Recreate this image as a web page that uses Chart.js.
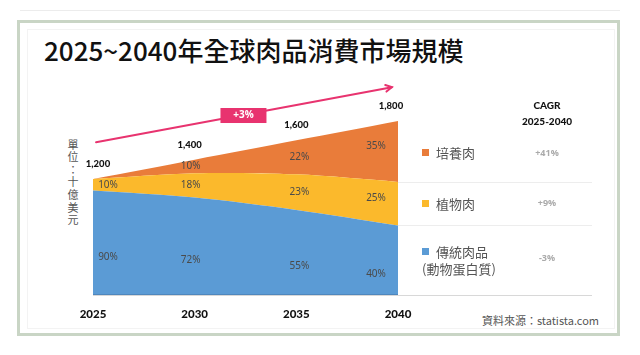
<!DOCTYPE html>
<html><head><meta charset="utf-8">
<script src="https://cdn.jsdelivr.net/npm/chart.js@4"></script>
<style>
html,body{margin:0;padding:0;background:#fff;}
#wrap{position:relative;width:640px;height:355px;overflow:hidden;font-family:"Noto Sans CJK TC","Noto Sans",sans-serif;}
#topline{position:absolute;left:20px;top:10px;width:600px;height:1px;background:#ececec;}
#frame{position:absolute;left:17px;top:20px;width:597px;height:310px;border:3px solid #c9d5c5;}
#inner{position:absolute;left:27px;top:29px;width:586px;height:298px;border:1px solid #f3f3f3;}
#title{position:absolute;left:44px;top:35px;font-size:26px;line-height:30px;font-weight:500;color:#111;white-space:nowrap;}
#unit{position:absolute;left:66px;top:139px;writing-mode:vertical-rl;font-size:11px;letter-spacing:1.6px;color:#555;line-height:14px;}
#source{position:absolute;right:41px;top:312px;font-size:11px;color:#555;white-space:nowrap;line-height:16px;}
canvas{position:absolute;left:0;top:0;}
</style></head>
<body><div id="wrap">
<div id="topline"></div>
<div id="frame"></div>
<div id="inner"></div>
<div id="title">2025~2040年全球肉品消費市場規模</div>
<div id="unit">單位：十億美元</div>
<div id="source">資料來源：statista.com</div>
<canvas id="c" width="640" height="355"></canvas>
</div>
<script>
const years = [2025, 2030, 2035, 2040];
const totals = [1200, 1400, 1600, 1800];
const shareTraditional = [90, 72, 55, 40];
const sharePlant = [10, 18, 23, 25];
const shareCultured = [0, 10, 22, 35];
const seriesNames = ['傳統肉品', '植物肉', '培養肉'];
const cagrValues = ['-3%', '+9%', '+41%'];
const colors = ['#5b9bd5', '#fbb92c', '#e97c3a'];

const shares = [shareTraditional, sharePlant, shareCultured];
const datasets = shares.map((sh, k) => ({
  label: seriesNames[k],
  data: years.map((y, i) => ({x: y, y: totals[i] * sh[i] / 100})),
  backgroundColor: colors[k],
  borderColor: colors[k],
  borderWidth: 0,
  pointRadius: 0,
  fill: k === 0 ? 'origin' : '-1',
  tension: 0.3
}));

const annot = {
  arrowFrom: {x: 2025.15, y: 1580},
  arrowTo: {x: 2039.7, y: 2150},
  badge: {x: 2032.4, y: 1862, text: '+3%'}
};

const labelsPlugin = {
  id: 'labels',
  afterDatasetsDraw(chart) {
    const ctx = chart.ctx;
    const xs = chart.scales.x, ys = chart.scales.y;
    const ca = chart.chartArea;
    const base = ys.getPixelForValue(0);
    const n = years.length;
    ctx.save();
    // baseline & dividers
    ctx.strokeStyle = '#d8d8d8';
    ctx.lineWidth = 1;
    ctx.beginPath();
    ctx.moveTo(ca.left, Math.round(base) + 0.5);
    ctx.lineTo(592, Math.round(base) + 0.5);
    ctx.stroke();
    ctx.strokeStyle = '#4f87bd';
    ctx.beginPath();
    ctx.moveTo(ca.left, Math.round(base) - 0.5);
    ctx.lineTo(ca.right, Math.round(base) - 0.5);
    ctx.stroke();
    ctx.strokeStyle = '#ededed';
    for (let k = 0; k < 2; k++) {
      const p = chart.getDatasetMeta(k).data[n - 1];
      ctx.beginPath();
      ctx.moveTo(ca.right, Math.round(p.y) + 0.5);
      ctx.lineTo(592, Math.round(p.y) + 0.5);
      ctx.stroke();
    }
    // percent labels
    ctx.textAlign = 'center';
    ctx.textBaseline = 'middle';
    ctx.font = '10px "Noto Sans", sans-serif';
    ctx.fillStyle = '#4a4a4a';
    const xOff = [15, -4, 3, -22];
    const yOff = [14, 0, 0];
    for (let k = 0; k < 3; k++) {
      const meta = chart.getDatasetMeta(k);
      for (let i = 0; i < n; i++) {
        if (!shares[k][i]) continue;
        const top = meta.data[i].y;
        const bot = k === 0 ? base : chart.getDatasetMeta(k - 1).data[i].y;
        let y = (top + bot) / 2 + yOff[k];
        if (i === n - 1 && k > 0) y -= 5;
        ctx.fillText(shares[k][i] + '%', meta.data[i].x + xOff[i], y);
      }
    }
    // totals
    ctx.font = '900 9.5px Lato, sans-serif';
    ctx.fillStyle = '#111';
    const tOff = [5, -5, 0, -7];
    for (let i = 0; i < n; i++) {
      ctx.fillText(totals[i].toLocaleString('en-US'), xs.getPixelForValue(years[i]) + tOff[i], ys.getPixelForValue(totals[i]) - 15);
    }
    // arrow
    const x1 = xs.getPixelForValue(annot.arrowFrom.x), y1 = ys.getPixelForValue(annot.arrowFrom.y);
    const x2 = xs.getPixelForValue(annot.arrowTo.x), y2 = ys.getPixelForValue(annot.arrowTo.y);
    ctx.strokeStyle = '#e8336f';
    ctx.lineWidth = 2;
    ctx.lineCap = 'round';
    ctx.beginPath(); ctx.moveTo(x1, y1); ctx.lineTo(x2, y2); ctx.stroke();
    const ang = Math.atan2(y2 - y1, x2 - x1);
    ctx.beginPath();
    ctx.moveTo(x2 - 7 * Math.cos(ang - 0.5), y2 - 7 * Math.sin(ang - 0.5));
    ctx.lineTo(x2, y2);
    ctx.lineTo(x2 - 7 * Math.cos(ang + 0.5), y2 - 7 * Math.sin(ang + 0.5));
    ctx.stroke();
    const bx = xs.getPixelForValue(annot.badge.x), by = ys.getPixelForValue(annot.badge.y);
    ctx.fillStyle = '#e8336f';
    ctx.fillRect(bx - 23, by - 7, 46, 15);
    ctx.fillStyle = '#fff';
    ctx.font = 'bold 10px "Open Sans", sans-serif';
    ctx.fillText(annot.badge.text, bx, by + 0.5);
    // CAGR header
    ctx.fillStyle = '#111';
    ctx.font = '900 10px Lato, sans-serif';
    ctx.fillText('CAGR', 547, 106);
    ctx.fillText('2025-2040', 547, 122);
    // legend
    for (let k = 2; k >= 0; k--) {
      const top = chart.getDatasetMeta(k).data[n - 1].y;
      const bot = k === 0 ? base : chart.getDatasetMeta(k - 1).data[n - 1].y;
      const mid = (top + bot) / 2 + (k === 2 ? 2 : 0);
      const ty = k === 0 ? mid - 8.5 : mid;
      ctx.fillStyle = colors[k];
      ctx.fillRect(422, Math.round(ty) - 4, 7, 7);
      ctx.fillStyle = '#555';
      ctx.textAlign = 'left';
      ctx.font = '13px "Noto Sans CJK TC", sans-serif';
      ctx.fillText(seriesNames[k], 436, ty);
      if (k === 0) ctx.fillText('(動物蛋白質)', 422, mid + 8.5);
      ctx.textAlign = 'center';
      ctx.fillStyle = '#aaa';
      ctx.font = 'bold 9px "Open Sans", sans-serif';
      ctx.fillText(cagrValues[k], 547, k === 0 ? mid - 2 : mid);
    }
    ctx.restore();
  }
};

new Chart(document.getElementById('c'), {
  type: 'line',
  data: {datasets},
  options: {
    responsive: false,
    animation: false,
    events: [],
    layout: {padding: {left: 93, right: 242, top: 121, bottom: 0}},
    plugins: {legend: {display: false}, tooltip: {enabled: false}},
    scales: {
      x: {
        type: 'linear', min: 2025, max: 2040,
        grid: {display: false, drawTicks: false}, border: {display: false},
        ticks: {stepSize: 5, callback: v => String(v), color: '#111', padding: 12,
                font: {family: 'Lato', weight: '900', size: 11.5}},
        afterFit(a) { a.height = 60; }
      },
      y: {stacked: true, min: 0, max: 1800, display: false}
    }
  },
  plugins: [labelsPlugin]
});
</script>
</body></html>
